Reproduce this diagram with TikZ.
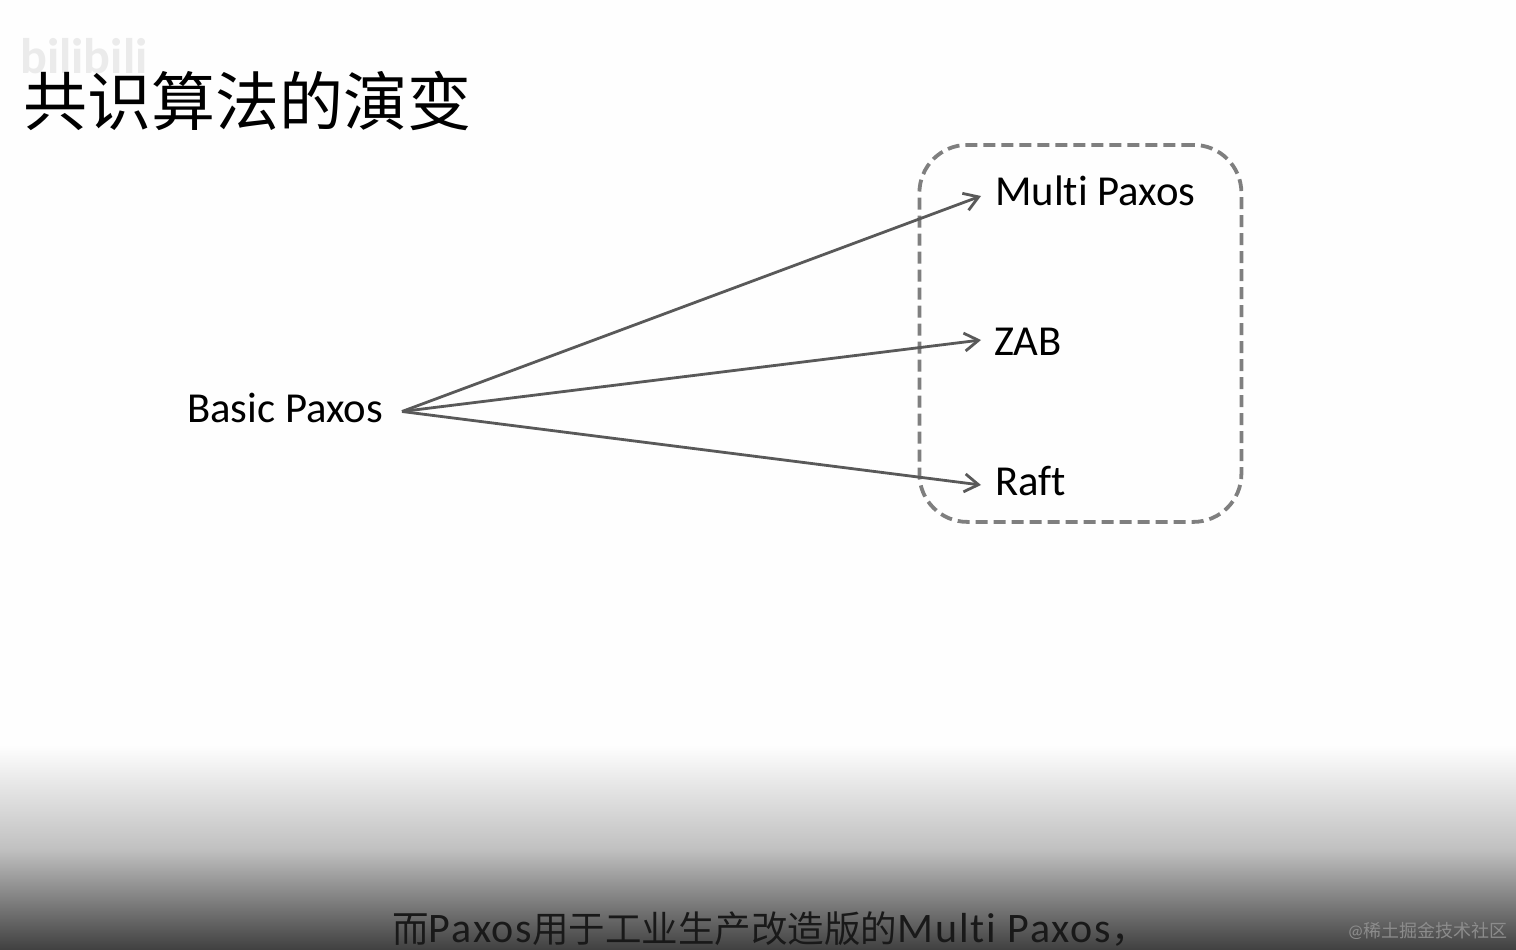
\documentclass[tikz,border=0pt]{standalone}
\usepackage{fontspec}
\setmainfont{Carlito}[Ligatures=NoCommon]
\newfontfamily\cjk{Noto Sans CJK SC}
\newfontfamily\subf{Carlito}[Ligatures=NoCommon,LetterSpace=4.5]
\usetikzlibrary{arrows.meta}
\definecolor{bgc}{HTML}{FEFEFE}
\definecolor{linec}{HTML}{595959}
\definecolor{dashc}{HTML}{7F7F7F}
\tikzset{
  label text/.style={inner sep=0pt,anchor=west,text=black,font=\fontsize{42.7}{42.7}\selectfont},
  arrowline/.style={draw=linec,line width=2.8pt,-{Straight Barb[length=14pt,width=18pt,line width=2.8pt]}},
  group box/.style={draw=dashc,line width=3.8pt,dash pattern=on 12pt off 6pt,rounded corners=48pt}
}
\begin{document}
\begin{tikzpicture}[x=1pt,y=-1pt]
\useasboundingbox (0,0) rectangle (1516,950);
\fill[bgc] (0,0) rectangle (1516,950);
% fade band
\shade[top color=bgc,bottom color=black!25] (0,745) rectangle (1516,851);
\shade[top color=black!25,bottom color=black!75] (0,850) rectangle (1516,950);
% watermark
\node[name=wm,inner sep=0pt,text=black!8,font=\bfseries\fontsize{50}{50}\selectfont,anchor=west] at (20,56) {bilibili};
% title
\node[name=title,inner sep=0pt,anchor=west,font=\cjk\fontsize{64}{64}\selectfont] at (23,101) {共识算法的演变};
% group
\node[name=group,group box,minimum width=322pt,minimum height=377pt,anchor=north west] at (917.5,143) {};
% labels
\node[name=basic,label text] at (187,408) {Basic Paxos};
\node[name=multi,label text] at (995,191) {Multi Paxos};
\node[name=zab,label text] at (994,342) {ZAB};
\node[name=raft,label text] at (995,481) {Raft};
% connectors
\coordinate (src) at (402,411.5);
\coordinate (tm) at (981,196);
\coordinate (tz) at (981,340);
\coordinate (tr) at (981,485);
\draw[arrowline] (src) -- (tm);
\draw[arrowline] (src) -- (tz);
\draw[arrowline] (src) -- (tr);
% subtitle
\node[name=sub,inner sep=0pt,anchor=west,text=black!90,font=\subf\fontsize{42}{42}\selectfont] at (392,929) {{\cjk\fontsize{36.5}{36.5}\selectfont 而}Paxos{\cjk\fontsize{36.5}{36.5}\selectfont 用于工业生产改造版的}Multi Paxos{\cjk\fontsize{36.5}{36.5}\selectfont ，}};
\node[name=mark,inner sep=0pt,anchor=east,text=black!45,font=\fontsize{18}{18}\selectfont] at (1508,931) {@{\cjk 稀土掘金技术社区}};
\end{tikzpicture}
\end{document}
